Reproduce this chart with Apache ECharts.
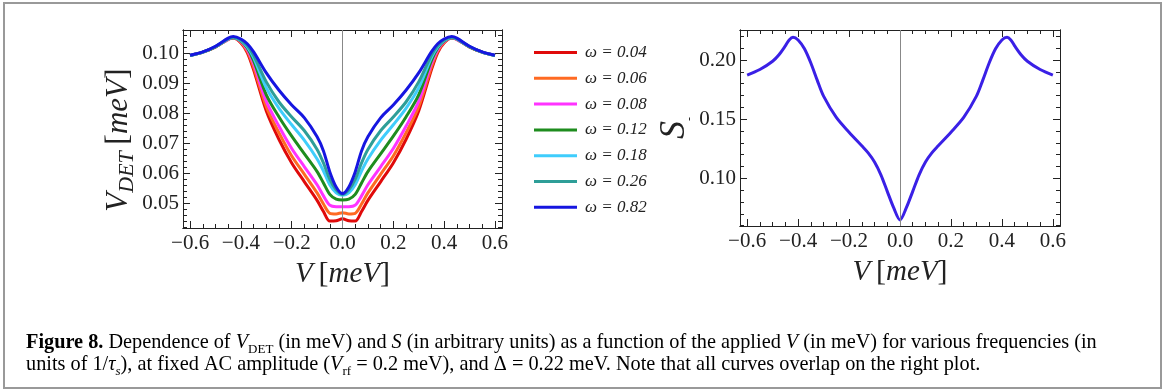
<!DOCTYPE html>
<html>
<head>
<meta charset="utf-8">
<script src="https://cdn.jsdelivr.net/npm/echarts@6/dist/echarts.min.js"></script>
<style>
  html, body { margin: 0; padding: 0; background: #fff; }
  #chart { width: 1165px; height: 392px; }
</style>
</head>
<body>
<div id="chart"></div>
<script>
// applied bias V (meV)
const voltage = [-0.6, -0.55, -0.5, -0.45, -0.43, -0.4, -0.375, -0.35, -0.3, -0.25, -0.2, -0.15, -0.1, -0.075, -0.05, -0.025, 0,
  0.025, 0.05, 0.075, 0.1, 0.15, 0.2, 0.25, 0.3, 0.35, 0.375, 0.4, 0.43, 0.45, 0.5, 0.55, 0.6];

// V_DET for each omega
const vdet004 = [0.0993, 0.1004, 0.1022, 0.1047, 0.1051, 0.1035, 0.1003, 0.0945, 0.0808, 0.0713, 0.0635, 0.0572, 0.0510, 0.0473, 0.0441, 0.0442, 0.0449,
  0.0442, 0.0441, 0.0473, 0.0510, 0.0572, 0.0635, 0.0713, 0.0808, 0.0945, 0.1003, 0.1035, 0.1051, 0.1047, 0.1022, 0.1004, 0.0993];
const vdet006 = [0.0993, 0.1004, 0.1022, 0.1047, 0.1051, 0.1037, 0.1008, 0.0955, 0.0822, 0.0735, 0.0658, 0.0597, 0.0535, 0.0498, 0.0467, 0.0465, 0.0469,
  0.0465, 0.0467, 0.0498, 0.0535, 0.0597, 0.0658, 0.0735, 0.0822, 0.0955, 0.1008, 0.1037, 0.1051, 0.1047, 0.1022, 0.1004, 0.0993];
const vdet008 = [0.0993, 0.1004, 0.1022, 0.1047, 0.1052, 0.1039, 0.1013, 0.0966, 0.0840, 0.0757, 0.0683, 0.0622, 0.0562, 0.0525, 0.0494, 0.0489, 0.0489,
  0.0489, 0.0494, 0.0525, 0.0562, 0.0622, 0.0683, 0.0757, 0.0840, 0.0966, 0.1013, 0.1039, 0.1052, 0.1047, 0.1022, 0.1004, 0.0993];
const vdet012 = [0.0993, 0.1004, 0.1022, 0.1048, 0.1052, 0.1041, 0.1018, 0.0976, 0.0862, 0.0788, 0.0724, 0.0665, 0.0606, 0.0568, 0.0530, 0.0514, 0.0511,
  0.0514, 0.0530, 0.0568, 0.0606, 0.0665, 0.0724, 0.0788, 0.0862, 0.0976, 0.1018, 0.1041, 0.1052, 0.1048, 0.1022, 0.1004, 0.0993];
const vdet018 = [0.0993, 0.1004, 0.1023, 0.1048, 0.1053, 0.1043, 0.1022, 0.0986, 0.0885, 0.0817, 0.0762, 0.0710, 0.0648, 0.0608, 0.0562, 0.0535, 0.0527,
  0.0535, 0.0562, 0.0608, 0.0648, 0.0710, 0.0762, 0.0817, 0.0885, 0.0986, 0.1022, 0.1043, 0.1053, 0.1048, 0.1023, 0.1004, 0.0993];
const vdet026 = [0.0993, 0.1004, 0.1023, 0.1049, 0.1054, 0.1045, 0.1026, 0.0994, 0.0905, 0.0838, 0.0788, 0.0742, 0.0680, 0.0635, 0.0580, 0.0545, 0.0530,
  0.0545, 0.0580, 0.0635, 0.0680, 0.0742, 0.0788, 0.0838, 0.0905, 0.0994, 0.1026, 0.1045, 0.1054, 0.1049, 0.1023, 0.1004, 0.0993];
const vdet082 = [0.0994, 0.1005, 0.1024, 0.1051, 0.1056, 0.1048, 0.1032, 0.1005, 0.0935, 0.0877, 0.0828, 0.0785, 0.0722, 0.0675, 0.0605, 0.0555, 0.0533,
  0.0555, 0.0605, 0.0675, 0.0722, 0.0785, 0.0828, 0.0877, 0.0935, 0.1005, 0.1032, 0.1048, 0.1056, 0.1051, 0.1024, 0.1005, 0.0994];

// S (arbitrary units), same for all omega, on its own V grid
const sVoltage = [-0.6, -0.55, -0.5, -0.475, -0.45, -0.435, -0.42, -0.4, -0.375, -0.35, -0.325, -0.3, -0.25, -0.2, -0.15, -0.125, -0.1, -0.075, -0.05, -0.025, 0,
  0.025, 0.05, 0.075, 0.1, 0.125, 0.15, 0.2, 0.25, 0.3, 0.325, 0.35, 0.375, 0.4, 0.42, 0.435, 0.45, 0.475, 0.5, 0.55, 0.6];
const sValues = [0.1873, 0.1920, 0.1990, 0.2045, 0.2120, 0.2170, 0.2193, 0.2170, 0.2095, 0.1975, 0.1830, 0.1695, 0.1515, 0.1390, 0.1275, 0.1215, 0.1138, 0.1030, 0.0890, 0.0752, 0.0648,
  0.0752, 0.0890, 0.1030, 0.1138, 0.1215, 0.1275, 0.1390, 0.1515, 0.1695, 0.1830, 0.1975, 0.2095, 0.2170, 0.2193, 0.2170, 0.2120, 0.2045, 0.1990, 0.1920, 0.1873];

const omegaNames = ['ω = 0.04', 'ω = 0.06', 'ω = 0.08', 'ω = 0.12', 'ω = 0.18', 'ω = 0.26', 'ω = 0.82'];
const omegaColors = ['#e00a0a', '#ff6a22', '#ff33ff', '#1e8c1e', '#3fcdfc', '#2e9e98', '#1616e0'];
const vdetSeries = [vdet004, vdet006, vdet008, vdet012, vdet018, vdet026, vdet082];

// ticks
const xTicks = [-0.6, -0.4, -0.2, 0, 0.2, 0.4, 0.6];
const xMinorTicks = [-0.6, -0.55, -0.5, -0.45, -0.4, -0.35, -0.3, -0.25, -0.2, -0.15, -0.1, -0.05, 0,
  0.05, 0.1, 0.15, 0.2, 0.25, 0.3, 0.35, 0.4, 0.45, 0.5, 0.55, 0.6];
const leftYTicks = [0.05, 0.06, 0.07, 0.08, 0.09, 0.10];
const leftYMinorTicks = [0.042, 0.044, 0.046, 0.048, 0.050, 0.052, 0.054, 0.056, 0.058, 0.060, 0.062, 0.064, 0.066, 0.068,
  0.070, 0.072, 0.074, 0.076, 0.078, 0.080, 0.082, 0.084, 0.086, 0.088, 0.090, 0.092, 0.094, 0.096, 0.098, 0.100,
  0.102, 0.104, 0.106];
const rightYTicks = [0.10, 0.15, 0.20];
const rightYMinorTicks = [0.06, 0.07, 0.08, 0.09, 0.10, 0.11, 0.12, 0.13, 0.14, 0.15, 0.16, 0.17, 0.18, 0.19, 0.20, 0.21, 0.22];

const serif = 'Liberation Serif';
const frameColor = '#222';

const nameRich = {
  v: { fontFamily: serif, fontStyle: 'italic', fontSize: 29, lineHeight: 38, color: '#222' },
  b: { fontFamily: serif, fontSize: 30, lineHeight: 38, color: '#222' },
  vy: { fontFamily: serif, fontStyle: 'italic', fontSize: 31, lineHeight: 40, color: '#222' },
  by: { fontFamily: serif, fontSize: 32, lineHeight: 40, color: '#222' },
  sub: { fontFamily: serif, fontStyle: 'italic', fontSize: 22, lineHeight: 22, verticalAlign: 'bottom', color: '#222' },
  s: { fontFamily: serif, fontStyle: 'italic', fontSize: 36, lineHeight: 42, color: '#222' },
  tiny: { fontFamily: serif, fontSize: 12, lineHeight: 16, verticalAlign: 'bottom', color: '#222' }
};

// one frame side: axis line + ticks (major or minor)
function side(gridIndex, min, max, position, values, len, extra) {
  return Object.assign({
    gridIndex, type: 'value', min, max, position,
    axisLine: { show: true, onZero: false, lineStyle: { color: frameColor, width: 1 } },
    axisTick: { show: true, inside: true, length: len, customValues: values, lineStyle: { color: frameColor, width: 1 } },
    axisLabel: { show: false },
    splitLine: { show: false }
  }, extra || {});
}

function xAxesFor(gridIndex) {
  const min = -0.628, max = 0.628;
  return [
    side(gridIndex, min, max, 'bottom', xTicks, 7, {
      axisLabel: {
        show: true, customValues: xTicks, margin: 5, fontFamily: serif, fontSize: 21, color: '#222',
        formatter: v => (v < 0 ? '\u2212' : '') + Math.abs(v).toFixed(1)
      },
      name: '{v|V}{b|\u2009[}{v|meV}{b|]}',
      nameLocation: 'middle', nameGap: 27,
      nameTextStyle: { rich: nameRich }
    }),
    side(gridIndex, min, max, 'bottom', xMinorTicks, 4),
    side(gridIndex, min, max, 'top', xTicks, 7),
    side(gridIndex, min, max, 'top', xMinorTicks, 4)
  ];
}

function yAxesFor(gridIndex, min, max, major, minor, name, gap, namePad) {
  return [
    side(gridIndex, min, max, 'left', major, 7, {
      axisLabel: {
        show: true, customValues: major, margin: 4, fontFamily: serif, fontSize: 21, color: '#222',
        formatter: v => v.toFixed(2)
      },
      name, nameLocation: 'middle', nameRotate: 90, nameGap: gap,
      nameTextStyle: { rich: nameRich, padding: namePad }
    }),
    side(gridIndex, min, max, 'left', minor, 4),
    side(gridIndex, min, max, 'right', major, 7),
    side(gridIndex, min, max, 'right', minor, 4)
  ];
}

const zeroLine = {
  silent: true, symbol: 'none', label: { show: false },
  lineStyle: { color: '#888', width: 1, type: 'solid' },
  data: [{ xAxis: 0 }]
};

const series = vdetSeries.map((arr, i) => ({
  name: omegaNames[i],
  type: 'line',
  xAxisIndex: 0, yAxisIndex: 0,
  data: voltage.map((v, j) => [v, arr[j]]),
  smooth: 0.3,
  showSymbol: false,
  lineStyle: { width: 3, color: omegaColors[i] },
  itemStyle: { color: omegaColors[i] },
  markLine: i === 0 ? zeroLine : undefined,
  z: 2 + i
}));

series.push({
  name: 'S',
  type: 'line',
  xAxisIndex: 4, yAxisIndex: 4,
  data: sVoltage.map((v, j) => [v, sValues[j]]),
  smooth: 0.3,
  showSymbol: false,
  lineStyle: { width: 3, color: '#3a20e6' },
  itemStyle: { color: '#3a20e6' },
  markLine: zeroLine
});

const capRich = {
  b: { fontFamily: serif, fontWeight: 'bold', fontSize: 20.3, lineHeight: 26, color: '#111' },
  r: { fontFamily: serif, fontSize: 20.3, lineHeight: 26, color: '#111' },
  i: { fontFamily: serif, fontStyle: 'italic', fontSize: 20.3, lineHeight: 26, color: '#111' },
  sub: { fontFamily: serif, fontSize: 13, lineHeight: 16, verticalAlign: 'bottom', color: '#111' },
  isub: { fontFamily: serif, fontStyle: 'italic', fontSize: 13, lineHeight: 16, verticalAlign: 'bottom', color: '#111' }
};

const chart = echarts.init(document.getElementById('chart'), null, { renderer: 'canvas' });

chart.setOption({
  animation: false,
  backgroundColor: '#fff',
  grid: [
    { left: 183, top: 30, width: 319, height: 198 },
    { left: 740, top: 30, width: 320, height: 196 }
  ],
  xAxis: xAxesFor(0).concat(xAxesFor(1)),
  yAxis: yAxesFor(0, 0.0418, 0.1078, leftYTicks, leftYMinorTicks, '{vy|V}{sub|DET}{by|\u2009[}{vy|meV}{by|]}', 44, [0, 22, 0, 0])
    .concat(yAxesFor(1, 0.0597, 0.2254, rightYTicks, rightYMinorTicks, '{s|S}{tiny|-}', 43, 0)),
  legend: {
    data: omegaNames,
    orient: 'vertical',
    left: 529, top: 39,
    itemWidth: 43, itemHeight: 3, itemGap: 8.8,
    icon: 'rect',
    textStyle: { fontFamily: serif, fontStyle: 'italic', fontSize: 17, color: '#222', padding: [0, 0, 0, 3] }
  },
  graphic: [
    {
      type: 'rect', silent: true,
      shape: { x: 4, y: 3, width: 1157, height: 385 },
      style: { fill: 'none', stroke: '#999', lineWidth: 2 }
    },
    {
      type: 'text', left: 26, top: 333, silent: true,
      style: {
        text: '{b|Figure 8.}{r| Dependence of }{i|V}{sub|DET}{r| (in meV) and }{i|S}{r| (in arbitrary units) as a function of the applied }{i|V}{r| (in meV) for various frequencies (in}',
        rich: capRich
      }
    },
    {
      type: 'text', left: 26, top: 355, silent: true,
      style: {
        text: '{r|units of 1/}{i|τ}{isub|s}{r|), at fixed AC amplitude (}{i|V}{sub|rf}{r| = 0.2 meV), and Δ = 0.22 meV. Note that all curves overlap on the right plot.}',
        rich: capRich
      }
    }
  ],
  series
});
</script>
</body>
</html>
